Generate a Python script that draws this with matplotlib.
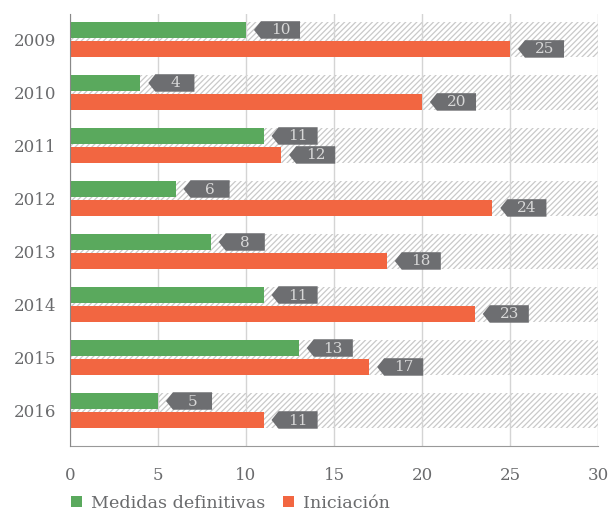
import matplotlib
matplotlib.use("Agg")
import matplotlib.pyplot as plt
from matplotlib.patches import Polygon, Patch

years = ["2009", "2010", "2011", "2012", "2013", "2014", "2015", "2016"]
medidas = [10, 4, 11, 6, 8, 11, 13, 5]
iniciacion = [25, 20, 12, 24, 18, 23, 17, 11]
series_names = ["Medidas definitivas", "Iniciación"]
xticks = [0, 5, 10, 15, 20, 25, 30]

GREEN = "#5aa95d"
RED = "#f26641"
TAG = "#6d6e71"
TXT = "#6a6b6d"

plt.rcParams["font.family"] = ["DejaVu Serif"]
plt.rcParams["hatch.linewidth"] = 0.9

fig = plt.figure(figsize=(6.11, 5.12), dpi=100)
ax = fig.add_axes([70 / 611, 1 - 446 / 512, 528 / 611, 432 / 512])

xmax = 30
off = 0.179
h = 0.30
for i, (m, r) in enumerate(zip(medidas, iniciacion)):
    ax.barh(i, xmax, height=2 * off + h, left=0, facecolor="none", edgecolor="#c9c9c9",
            hatch="//////", linewidth=0, zorder=0.5)
    for val, dy, col in ((m, -off, GREEN), (r, off, RED)):
        y = i + dy
        ax.barh(y, val, height=h, left=0, color=col, linewidth=0, zorder=2)
        th = 0.33
        pts = [(val + 0.45, y), (val + 0.85, y - th / 2), (val + 3.07, y - th / 2),
               (val + 3.07, y + th / 2), (val + 0.85, y + th / 2)]
        ax.add_patch(Polygon(pts, closed=True, facecolor=TAG, edgecolor="none", zorder=3))
        ax.text(val + 1.96, y + 0.01, str(val), ha="center", va="center",
                color="#d8d8d8", fontsize=11, zorder=4)

ax.set_xlim(0, xmax)
ax.set_ylim(7.67, -0.48)
ax.set_xticks(xticks)
ax.set_xticklabels([str(t) for t in xticks])
ax.set_yticks(range(len(years)))
ax.set_yticklabels(years)
ax.tick_params(length=0, labelsize=12, colors=TXT)
ax.tick_params(axis="x", pad=15)
ax.tick_params(axis="y", pad=10)
ax.grid(axis="x", color="#d4d4d4", linewidth=1, zorder=1)
for s in ["top", "right"]:
    ax.spines[s].set_visible(False)
ax.spines["left"].set_color("#888888")
ax.spines["bottom"].set_color("#999999")
ax.spines["left"].set_zorder(5)

handles = [Patch(facecolor=GREEN, edgecolor="none", label=series_names[0]),
           Patch(facecolor=RED, edgecolor="none", label=series_names[1])]
leg = fig.legend(handles=handles, loc="center left", bbox_to_anchor=(62 / 611, 1 - 503 / 512),
                 ncol=2, frameon=False, fontsize=12.6, handlelength=0.65, handleheight=0.65,
                 handletextpad=0.5, columnspacing=1.0, borderpad=0)
for t in leg.get_texts():
    t.set_color(TXT)

fig.savefig("out.png", dpi=100)
